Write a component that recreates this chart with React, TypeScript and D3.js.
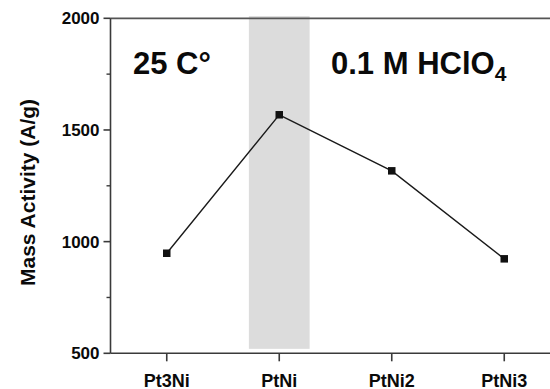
import { useRef, useEffect } from 'react'
import * as d3 from 'd3'

const WIDTH = 550
const HEIGHT = 389
// plot frame -- right edge sits just past the visible area
const FRAME = { left: 110.5, right: 560.5, top: 18.3, bottom: 353.3 }

const categories = ['Pt3Ni', 'PtNi', 'PtNi2', 'PtNi3']
const massActivity = [948, 1568, 1317, 923]
const yTicks = [500, 1000, 1500, 2000]
const yMinorTicks = [750, 1250, 1750]

// shaded band behind PtNi
const bandCategory = 'PtNi'
const bandValueRange = [520, 2010]

const FONT = '"Liberation Sans", Arial, Helvetica, sans-serif'

export default function App() {
  const svgRef = useRef<SVGSVGElement | null>(null)

  useEffect(() => {
    if (!svgRef.current) return
    const svg = d3.select(svgRef.current)
    svg.selectAll('*').remove()

    const x = d3.scaleBand<string>().domain(categories).range([FRAME.left, FRAME.right]).padding(0)
    const cx = (c: string) => (x(c) ?? 0) + x.bandwidth() / 2
    const y = d3.scaleLinear().domain([500, 2000]).range([FRAME.bottom, FRAME.top])

    const axisColor = '#3a3a3a'
    const textColor = '#0a0a0a'

    // grey band
    const bandHalf = x.bandwidth() * 0.27
    svg.append('rect')
      .attr('x', cx(bandCategory) - bandHalf)
      .attr('y', y(bandValueRange[1]))
      .attr('width', bandHalf * 2)
      .attr('height', y(bandValueRange[0]) - y(bandValueRange[1]))
      .attr('fill', '#dcdcdc')

    // frame lines (top + left + bottom)
    svg.append('line')
      .attr('x1', FRAME.left).attr('x2', FRAME.right)
      .attr('y1', FRAME.top).attr('y2', FRAME.top)
      .attr('stroke', '#555').attr('stroke-width', 1.8)
    svg.append('line')
      .attr('x1', FRAME.left).attr('x2', FRAME.left)
      .attr('y1', FRAME.top).attr('y2', FRAME.bottom)
      .attr('stroke', axisColor).attr('stroke-width', 1.6)
    svg.append('line')
      .attr('x1', FRAME.left).attr('x2', FRAME.right)
      .attr('y1', FRAME.bottom).attr('y2', FRAME.bottom)
      .attr('stroke', axisColor).attr('stroke-width', 1.6)

    // y ticks
    yTicks.forEach(t => {
      svg.append('line')
        .attr('x1', FRAME.left - 7).attr('x2', FRAME.left)
        .attr('y1', y(t)).attr('y2', y(t))
        .attr('stroke', axisColor).attr('stroke-width', 1.6)
      svg.append('text')
        .attr('x', FRAME.left - 11).attr('y', y(t))
        .attr('dy', '0.36em')
        .attr('text-anchor', 'end')
        .attr('font-family', FONT).attr('font-weight', 'bold').attr('font-size', 17)
        .attr('fill', textColor)
        .text(t)
    })
    yMinorTicks.forEach(t => {
      svg.append('line')
        .attr('x1', FRAME.left - 4).attr('x2', FRAME.left)
        .attr('y1', y(t)).attr('y2', y(t))
        .attr('stroke', axisColor).attr('stroke-width', 1.4)
    })

    // x ticks + labels
    categories.forEach(c => {
      svg.append('line')
        .attr('x1', cx(c)).attr('x2', cx(c))
        .attr('y1', FRAME.bottom).attr('y2', FRAME.bottom + 8)
        .attr('stroke', axisColor).attr('stroke-width', 1.6)
      svg.append('text')
        .attr('x', cx(c)).attr('y', 386.5)
        .attr('text-anchor', 'middle')
        .attr('font-family', FONT).attr('font-weight', 'bold').attr('font-size', 18)
        .attr('fill', textColor)
        .text(c)
    })

    // y title
    svg.append('text')
      .attr('transform', `translate(34.5,${(95 + 290) / 2}) rotate(-90)`)
      .attr('text-anchor', 'middle')
      .attr('font-family', FONT).attr('font-weight', 'bold').attr('font-size', 21)
      .attr('fill', textColor)
      .text('Mass Activity (A/g)')

    // data line
    const pts = categories.map((c, i) => ({ c, v: massActivity[i] }))
    const line = d3.line<{ c: string; v: number }>().x(d => cx(d.c)).y(d => y(d.v))
    svg.append('path').datum(pts).attr('d', line)
      .attr('fill', 'none').attr('stroke', '#1a1a1a').attr('stroke-width', 1.4)

    const s = 7.5
    svg.selectAll('rect.pt').data(pts).enter().append('rect')
      .attr('class', 'pt')
      .attr('x', d => cx(d.c) - s / 2).attr('y', d => y(d.v) - s / 2)
      .attr('width', s).attr('height', s)
      .attr('fill', '#111')

    // annotations
    svg.append('text')
      .attr('x', 133).attr('y', 73.5)
      .attr('font-family', FONT).attr('font-weight', 'bold').attr('font-size', 31)
      .attr('fill', textColor)
      .text('25 C°')

    const t2 = svg.append('text')
      .attr('x', 331).attr('y', 73.5)
      .attr('font-family', FONT).attr('font-weight', 'bold').attr('font-size', 31)
      .attr('fill', textColor)
    t2.append('tspan').text('0.1 M HClO')
    t2.append('tspan').attr('font-size', 21).attr('dy', 7).text('4')
  }, [])

  return (
    <svg
      ref={svgRef}
      width={WIDTH}
      height={HEIGHT}
      style={{ position: 'absolute', left: 0, top: 0, background: '#fff' }}
    />
  )
}
